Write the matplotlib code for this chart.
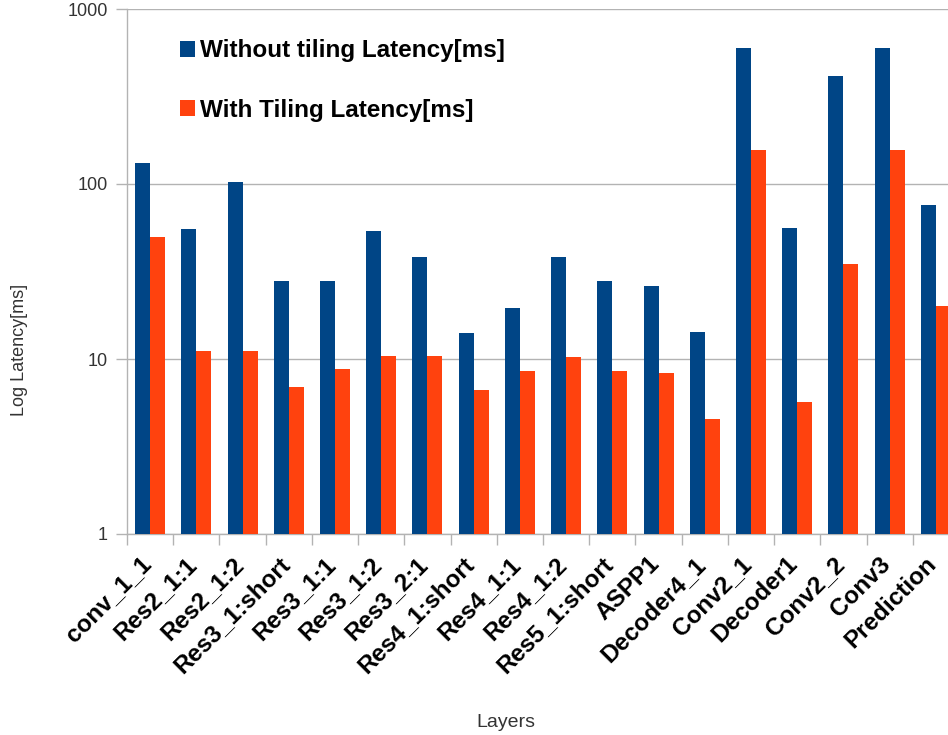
import numpy as np
import matplotlib.pyplot as plt
import matplotlib.transforms as mtransforms
from matplotlib.ticker import FixedLocator, NullFormatter

plt.rcParams['font.family'] = ['Liberation Sans', 'DejaVu Sans']

layers = ['conv_1_1', 'Res2_1:1', 'Res2_1:2', 'Res3_1:short', 'Res3_1:1',
          'Res3_1:2', 'Res3_2:1', 'Res4_1:short', 'Res4_1:1', 'Res4_1:2',
          'Res5_1:short', 'ASPP1', 'Decoder4_1', 'Conv2_1', 'Decoder1',
          'Conv2_2', 'Conv3', 'Prediction']
no_tiling = [132, 55, 103, 27.9, 27.9, 53.9, 38.3, 14.1, 19.5, 38.3,
             27.9, 26.1, 14.3, 598, 56, 414, 598, 75.9]
tiling = [50, 11.1, 11.1, 6.9, 8.8, 10.4, 10.4, 6.65, 8.5, 10.2,
          8.5, 8.3, 4.54, 156, 5.68, 34.9, 156, 20.1]

blue = '#004586'
orange = '#ff420e'
grey = '#b3b3b3'

fig = plt.figure(figsize=(9.48, 7.35), dpi=100)
# plot area runs a little past the right edge of the canvas
ax = fig.add_axes([127 / 948, 201 / 735, 832 / 948, 525 / 735])

x = np.arange(len(layers))
w = 0.325
ax.bar(x - w / 2, no_tiling, w, color=blue, label='Without tiling Latency[ms]', zorder=3)
ax.bar(x + w / 2, tiling, w, color=orange, label='With Tiling Latency[ms]', zorder=3)

ax.set_yscale('log')
ax.set_ylim(1, 1000)
ax.set_xlim(-0.5, len(layers) - 0.5)
ax.yaxis.set_major_locator(FixedLocator([1, 10, 100, 1000]))
ax.set_yticklabels(['1', '10', '100', '1000'])
ax.yaxis.set_minor_formatter(NullFormatter())
ax.yaxis.set_minor_locator(FixedLocator([]))
ax.grid(axis='y', color=grey, linewidth=1, zorder=0)

ax.set_xticks(x)
ax.set_xticklabels(layers, rotation=45, ha='right', va='top',
                   rotation_mode='anchor', fontsize=17.5, fontweight='bold')
ax.tick_params(axis='x', which='major', length=0, pad=9)
# nudge the slanted labels so they end right under each category
shift = mtransforms.ScaledTranslation(-11 / 100, -6 / 100, fig.dpi_scale_trans)
for lbl in ax.get_xticklabels():
    lbl.set_transform(lbl.get_transform() + shift)
ax.set_xticks(np.arange(len(layers) + 1) - 0.5, minor=True)
ax.tick_params(axis='x', which='minor', length=8, color=grey, width=1)
ax.tick_params(axis='y', length=8, color=grey, width=1, labelsize=13,
               labelcolor='#333333', pad=6)

for s in ['top', 'right']:
    ax.spines[s].set_visible(False)
for s in ['left', 'bottom']:
    ax.spines[s].set_color(grey)
    ax.spines[s].set_linewidth(1)

ax.set_ylabel('Log Latency[ms]', fontsize=13, color='#333333')
ax.set_xlabel('Layers', fontsize=14, color='#333333')
ax.yaxis.set_label_coords(-0.1186, 0.35)
ax.xaxis.set_label_coords(0.455, -0.342)

leg = ax.legend(loc='upper left', bbox_to_anchor=(0.0376, 0.984), frameon=False,
                prop={'size': 17.5, 'weight': 'bold'}, handlelength=0.62,
                handleheight=0.62, handletextpad=0.2, labelspacing=1.5)

fig.savefig('out.png', dpi=100)
